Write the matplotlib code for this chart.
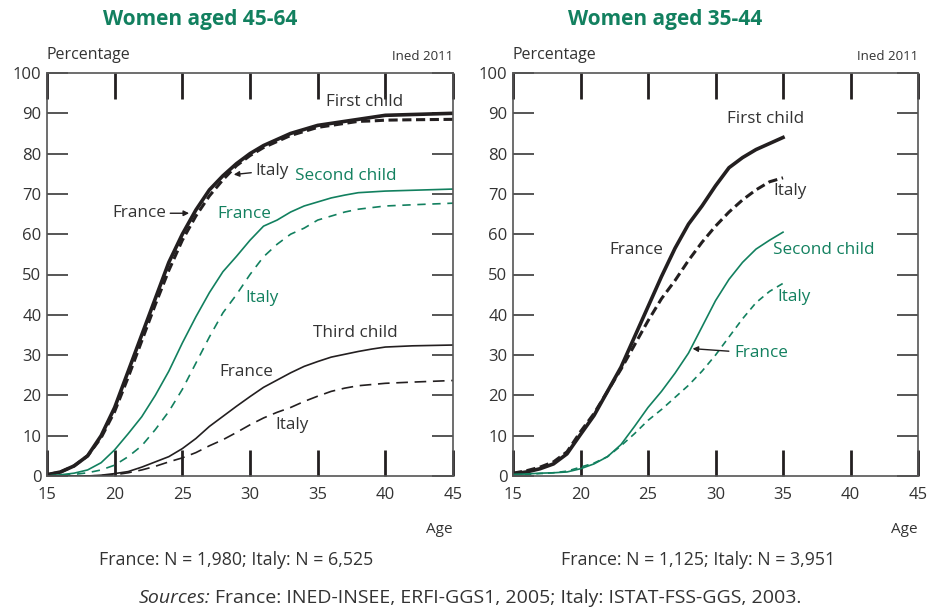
import matplotlib
matplotlib.use("Agg")
import matplotlib.pyplot as plt

plt.rcParams['font.family'] = ['Open Sans', 'DejaVu Sans']

GREEN = '#12805f'
DARK = '#231f20'
TXT = '#333333'

# ---- Left panel: women aged 45-64 ----
ages_l = [15, 16, 17, 18, 19, 20, 21, 22, 23, 24, 25, 26, 27, 28, 29, 30,
          31, 32, 33, 34, 35, 36, 37, 38, 39, 40, 42, 45]
fr1_l = [0.3, 1, 2.5, 5, 10, 17, 26, 35, 44, 53, 60, 66, 71, 74.5, 77.5, 80,
         82, 83.5, 85, 86, 87, 87.5, 88, 88.5, 89, 89.5, 89.7, 90]
it1_l = [0.3, 1, 2.5, 5, 9.5, 16, 24.5, 33.5, 42.5, 51, 58.5, 64.5, 69.5, 73.5, 77, 79.5,
         81.5, 83, 84.5, 85.5, 86.5, 87, 87.5, 88, 88.1, 88.3, 88.4, 88.5]
fr2_l = [0, 0.3, 0.7, 1.5, 3.3, 6.5, 10.5, 14.7, 20, 26, 33, 39.5, 45.5, 50.7, 54.5, 58.5,
         62, 63.5, 65.5, 67, 68, 69, 69.7, 70.3, 70.5, 70.7, 70.9, 71.2]
it2_l = [0, 0.2, 0.4, 0.8, 1.5, 2.7, 4.8, 7.5, 11.5, 16, 21.5, 28, 34.5, 40.5, 45, 50,
         54.4, 57.5, 60, 61.5, 63.5, 64.5, 65.5, 66.2, 66.6, 67, 67.3, 67.7]
fr3_l = [0, 0, 0, 0, 0.2, 0.6, 1.1, 2.2, 3.5, 4.8, 6.8, 9.3, 12.3, 14.8, 17.3, 19.7,
         22, 23.8, 25.6, 27.2, 28.4, 29.5, 30.2, 30.9, 31.5, 32, 32.3, 32.5]
it3_l = [0, 0, 0, 0, 0.1, 0.3, 0.8, 1.5, 2.4, 3.5, 4.5, 5.8, 7.5, 9, 10.8, 12.7,
         14.4, 15.8, 17, 18.5, 19.8, 21, 21.8, 22.4, 22.7, 23, 23.3, 23.7]

# ---- Right panel: women aged 35-44 ----
ages_r = [15, 16, 17, 18, 19, 20, 21, 22, 23, 24, 25, 26, 27, 28, 29, 30,
          31, 32, 33, 34, 35]
fr1_r = [0.5, 1, 1.8, 3, 5.5, 10.3, 15, 21, 27, 34.5, 42, 49.5, 56.5, 62.5, 67, 72,
         76.5, 79, 81, 82.5, 84]
it1_r = [0.7, 1.3, 2.2, 3.5, 6, 11, 15.5, 21, 26.5, 32.5, 38.5, 44, 48.5, 53.5, 58, 62,
         65.5, 68.5, 71, 73, 74]
fr2_r = [0.4, 0.5, 0.7, 0.8, 1, 1.8, 3, 4.8, 7.8, 12.3, 17, 21, 25.5, 30.5, 37, 43.5,
         48.8, 53, 56.3, 58.5, 60.5]
it2_r = [0.3, 0.4, 0.6, 0.8, 1.2, 2.2, 3.2, 4.8, 7.5, 10.5, 13.8, 16.5, 19.5, 22.5, 26, 30,
         34.5, 39, 43, 45.8, 47.8]

xticks = [15, 20, 25, 30, 35, 40, 45]
yticks = [0, 10, 20, 30, 40, 50, 60, 70, 80, 90, 100]

fig = plt.figure(figsize=(9.27, 6.09), dpi=100)
ax1 = fig.add_axes([47/927, 1-476/609, 406/927, 403/609])
ax2 = fig.add_axes([513/927, 1-476/609, 405/927, 403/609])

for ax in (ax1, ax2):
    ax.set_xlim(15, 45)
    ax.set_ylim(0, 100)
    ax.set_xticks(xticks)
    ax.set_yticks(yticks)
    for s in ax.spines.values():
        s.set_color('#555555')
        s.set_linewidth(1.2)
    ax.tick_params(axis='x', direction='in', length=19, width=2, color=DARK,
                   top=True, bottom=True, labelsize=12, labelcolor=TXT, pad=8)
    ax.tick_params(axis='y', direction='in', length=15, width=1.4, color='#555555',
                   left=True, right=True, labelsize=12, labelcolor=TXT, pad=4)
    ax.text(0, 1.025, 'Percentage', transform=ax.transAxes, ha='left', va='bottom',
            fontsize=11.5, color=TXT)
    ax.text(1, 1.025, 'Ined 2011', transform=ax.transAxes, ha='right', va='bottom',
            fontsize=9.5, color=TXT)
    ax.text(1, -0.115, 'Age', transform=ax.transAxes, ha='right', va='top',
            fontsize=11, color=TXT)

# Left panel lines
ax1.plot(ages_l, fr1_l, color=DARK, lw=2.6, solid_capstyle='butt')
ax1.plot(ages_l, it1_l, color=DARK, lw=2.2, ls=(0, (3, 1.5)))
ax1.plot(ages_l, fr2_l, color=GREEN, lw=1.2)
ax1.plot(ages_l, it2_l, color=GREEN, lw=1.2, ls=(0, (5, 4)))
ax1.plot(ages_l, fr3_l, color=DARK, lw=1.2)
ax1.plot(ages_l, it3_l, color=DARK, lw=1.2, ls=(0, (7, 4)))

# Right panel lines
ax2.plot(ages_r, fr1_r, color=DARK, lw=2.6)
ax2.plot(ages_r, it1_r, color=DARK, lw=2.2, ls=(0, (3, 1.5)))
ax2.plot(ages_r, fr2_r, color=GREEN, lw=1.2)
ax2.plot(ages_r, it2_r, color=GREEN, lw=1.2, ls=(0, (4, 3)))

fs = 12.3
arrow = dict(arrowstyle='-|>', color=DARK, lw=1, shrinkA=1, shrinkB=0, mutation_scale=8)
# Left annotations
ax1.text(38.5, 92.7, 'First child', ha='center', va='center', fontsize=fs, color=TXT)
ax1.annotate('Italy', xy=(28.8, 74.8), xytext=(30.4, 75.8), ha='left', va='center',
             fontsize=fs, color=TXT, arrowprops=arrow)
ax1.annotate('France', xy=(25.5, 65.2), xytext=(23.8, 65.2), ha='right', va='center',
             fontsize=fs, color=TXT, arrowprops=arrow)
ax1.text(37.1, 74.4, 'Second child', ha='center', va='center', fontsize=fs, color=GREEN)
ax1.text(29.6, 64.9, 'France', ha='center', va='center', fontsize=fs, color=GREEN)
ax1.text(30.9, 44.2, 'Italy', ha='center', va='center', fontsize=fs, color=GREEN)
ax1.text(37.8, 35.5, 'Third child', ha='center', va='center', fontsize=fs, color=TXT)
ax1.text(29.7, 25.8, 'France', ha='center', va='center', fontsize=fs, color=TXT)
ax1.text(33.1, 12.6, 'Italy', ha='center', va='center', fontsize=fs, color=TXT)

# Right annotations
ax2.text(33.7, 88.7, 'First child', ha='center', va='center', fontsize=fs, color=TXT)
ax2.text(35.5, 70.6, 'Italy', ha='center', va='center', fontsize=fs, color=TXT)
ax2.text(24.1, 56.2, 'France', ha='center', va='center', fontsize=fs, color=TXT)
ax2.text(38.0, 56.2, 'Second child', ha='center', va='center', fontsize=fs, color=GREEN)
ax2.text(35.8, 44.3, 'Italy', ha='center', va='center', fontsize=fs, color=GREEN)
ax2.annotate('France', xy=(28.3, 31.6), xytext=(31.4, 30.4), ha='left', va='center',
             fontsize=fs, color=GREEN,
             arrowprops=dict(arrowstyle='-|>', color=DARK, lw=1, shrinkA=2, shrinkB=0,
                             mutation_scale=8))

# Titles
fig.text(200/927, 1-20/609, 'Women aged 45-64', ha='center', va='center',
         fontsize=15, fontweight='bold', color=GREEN)
fig.text(665/927, 1-20/609, 'Women aged 35-44', ha='center', va='center',
         fontsize=15, fontweight='bold', color=GREEN)

fig.text(236/927, 1-560/609, 'France: N = 1,980; Italy: N = 6,525', ha='center',
         va='center', fontsize=12.8, color=TXT)
fig.text(698/927, 1-560/609, 'France: N = 1,125; Italy: N = 3,951', ha='center',
         va='center', fontsize=12.8, color=TXT)

# Sources line with italic "Sources:", centred as a whole
src_y = 1-598/609
fsrc = 14
t1 = fig.text(0, src_y, 'Sources:', ha='left', va='center', fontsize=fsrc,
              style='italic', color=TXT)
t2 = fig.text(0, src_y, 'France: INED-INSEE, ERFI-GGS1, 2005; Italy: ISTAT-FSS-GGS, 2003.',
              ha='left', va='center', fontsize=fsrc, color=TXT)
fig.canvas.draw()
w1 = t1.get_window_extent().width
w2 = t2.get_window_extent().width
gap = 5
start = 470 - (w1 + gap + w2) / 2
t1.set_x(start / 927)
t2.set_x((start + w1 + gap) / 927)

fig.savefig('out.png', dpi=100)
